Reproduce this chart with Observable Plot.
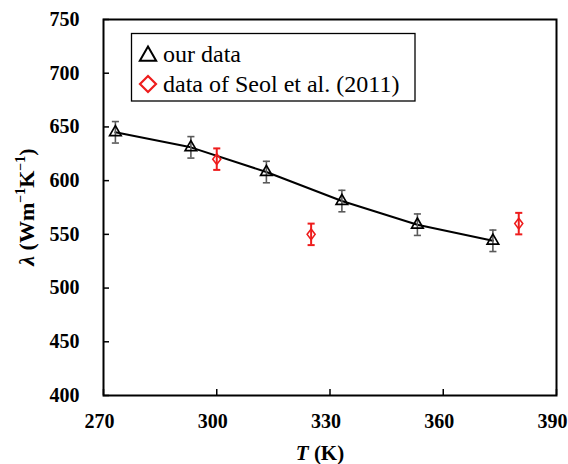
<!DOCTYPE html>
<html><head><meta charset="utf-8">
<script src="https://cdn.jsdelivr.net/npm/d3@7"></script>
<script src="https://cdn.jsdelivr.net/npm/@observablehq/plot@0.6"></script>
<style>html,body{margin:0;padding:0;background:#fff;overflow:hidden} svg{display:block}
svg text{font-family:'Liberation Serif','Times New Roman',serif !important}</style>
</head><body><div id="chart"></div>
<script>
// ---- data ----
const ourT = [273.15, 293.15, 313.15, 333.15, 353.15, 373.15];
const ourLambda = [645, 631, 608, 581, 559, 544];
const ourErr = [10, 10, 10, 10, 10, 10];
const seolT = [300, 325, 380];
const seolLambda = [620, 550, 560];
const seolErr = [10, 10, 10];
const xTicks = [270, 300, 330, 360, 390];
const yTicks = [400, 450, 500, 550, 600, 650, 700, 750];
const legendLabels = ["our data", "data of Seol et al. (2011)"];

const our = ourT.map((t, i) => ({T: t, L: ourLambda[i], e: ourErr[i]}));
const seol = seolT.map((t, i) => ({T: t, L: seolLambda[i], e: seolErr[i]}));

const F = "'Liberation Serif','Times New Roman',serif";
const RED = "#ee1c1c";
const GREY = "#5a5a5a";

const capSym = {draw(ctx, size) { const w = Math.sqrt(size); ctx.moveTo(-w / 2, 0); ctx.lineTo(w / 2, 0); }};
const diaSym = {draw(ctx, size) { const hy = Math.sqrt(size) * 0.6, hx = hy * 0.75;
  ctx.moveTo(0, -hy); ctx.lineTo(hx, 0); ctx.lineTo(0, hy); ctx.lineTo(-hx, 0); ctx.closePath(); }};

const plot = Plot.plot({
  width: 568, height: 464,
  marginLeft: 103, marginRight: 12, marginTop: 19, marginBottom: 69,
  style: {fontFamily: F, background: "#fff", color: "#000"},
  x: {domain: [270, 390]},
  y: {domain: [400, 750]},
  marks: [
    Plot.axisX({ticks: xTicks, tickSize: -6, tickFormat: () => "", strokeWidth: 1.5, label: null}),
    Plot.axisX({ticks: xTicks, tickSize: 0, tickPadding: 18, fontSize: 20, fontWeight: "bold", fontFamily: F, dx: -4, label: null}),
    Plot.axisY({ticks: yTicks, tickSize: -6, tickFormat: () => "", strokeWidth: 1.5, label: null}),
    Plot.axisY({ticks: yTicks, tickSize: 0, tickPadding: 24, fontSize: 20, fontWeight: "bold", fontFamily: F, label: null}),
    Plot.line(our, {x: "T", y: "L", stroke: "#000", strokeWidth: 2}),
    Plot.ruleX(our, {x: "T", y1: d => d.L - d.e, y2: d => d.L + d.e, stroke: GREY, strokeWidth: 1.6}),
    Plot.dot(our, {x: "T", y: d => d.L - d.e, symbol: capSym, r: 4, stroke: GREY, strokeWidth: 1.6}),
    Plot.dot(our, {x: "T", y: d => d.L + d.e, symbol: capSym, r: 4, stroke: GREY, strokeWidth: 1.6}),
    Plot.dot(our, {x: "T", y: "L", symbol: "triangle", r: 4.3, stroke: "#000", strokeWidth: 1.7, fill: "none"}),
    Plot.ruleX(seol, {x: "T", y1: d => d.L - d.e, y2: d => d.L + d.e, stroke: RED, strokeWidth: 2}),
    Plot.dot(seol, {x: "T", y: d => d.L - d.e, symbol: capSym, r: 4, stroke: RED, strokeWidth: 2}),
    Plot.dot(seol, {x: "T", y: d => d.L + d.e, symbol: capSym, r: 4, stroke: RED, strokeWidth: 2}),
    Plot.dot(seol, {x: "T", y: "L", symbol: diaSym, r: 5, stroke: RED, strokeWidth: 1.6, fill: "none"}),
    Plot.frame({stroke: "#000", strokeWidth: 2})
  ]
});

const svg = d3.select(plot);
// legend
const lg = svg.append("g").attr("font-family", F).attr("text-anchor", "start");
lg.append("rect").attr("x", 131.5).attr("y", 33.5).attr("width", 283.5).attr("height", 67.5)
  .attr("fill", "#fff").attr("stroke", "#000").attr("stroke-width", 1.3);
lg.append("path").attr("d", d3.symbol(d3.symbolTriangle, 115)())
  .attr("transform", "translate(148,56)").attr("fill", "none").attr("stroke", "#000").attr("stroke-width", 2);
lg.append("path").attr("d", "M0,-8L8,0L0,8L-8,0Z")
  .attr("transform", "translate(148,84)").attr("fill", "none").attr("stroke", RED).attr("stroke-width", 2.2);
legendLabels.forEach((t, i) => {
  lg.append("text").attr("x", 163).attr("y", 62 + i * 30).attr("text-anchor", "start")
    .attr("font-size", 24).attr("fill", "#000").text(t);
});
// y label
const yl = svg.append("text").attr("transform", "translate(34,207) rotate(-90)")
  .attr("text-anchor", "middle").attr("font-family", F).attr("font-size", 22).attr("font-weight", "bold").attr("fill", "#000");
yl.append("tspan").attr("font-style", "italic").text("λ");
yl.append("tspan").text(" (Wm");
yl.append("tspan").attr("font-size", 14).attr("dy", -9).text("−1");
yl.append("tspan").attr("dy", 9).text("K");
yl.append("tspan").attr("font-size", 14).attr("dy", -9).text("−1");
yl.append("tspan").attr("dy", 9).text(")");
// x label
const xl = svg.append("text").attr("x", 320).attr("y", 460).attr("text-anchor", "middle")
  .attr("font-family", F).attr("font-size", 21).attr("font-weight", "bold").attr("fill", "#000");
xl.append("tspan").attr("font-style", "italic").text("T");
xl.append("tspan").text(" (K)");

document.getElementById("chart").appendChild(plot);
</script>
</body></html>
